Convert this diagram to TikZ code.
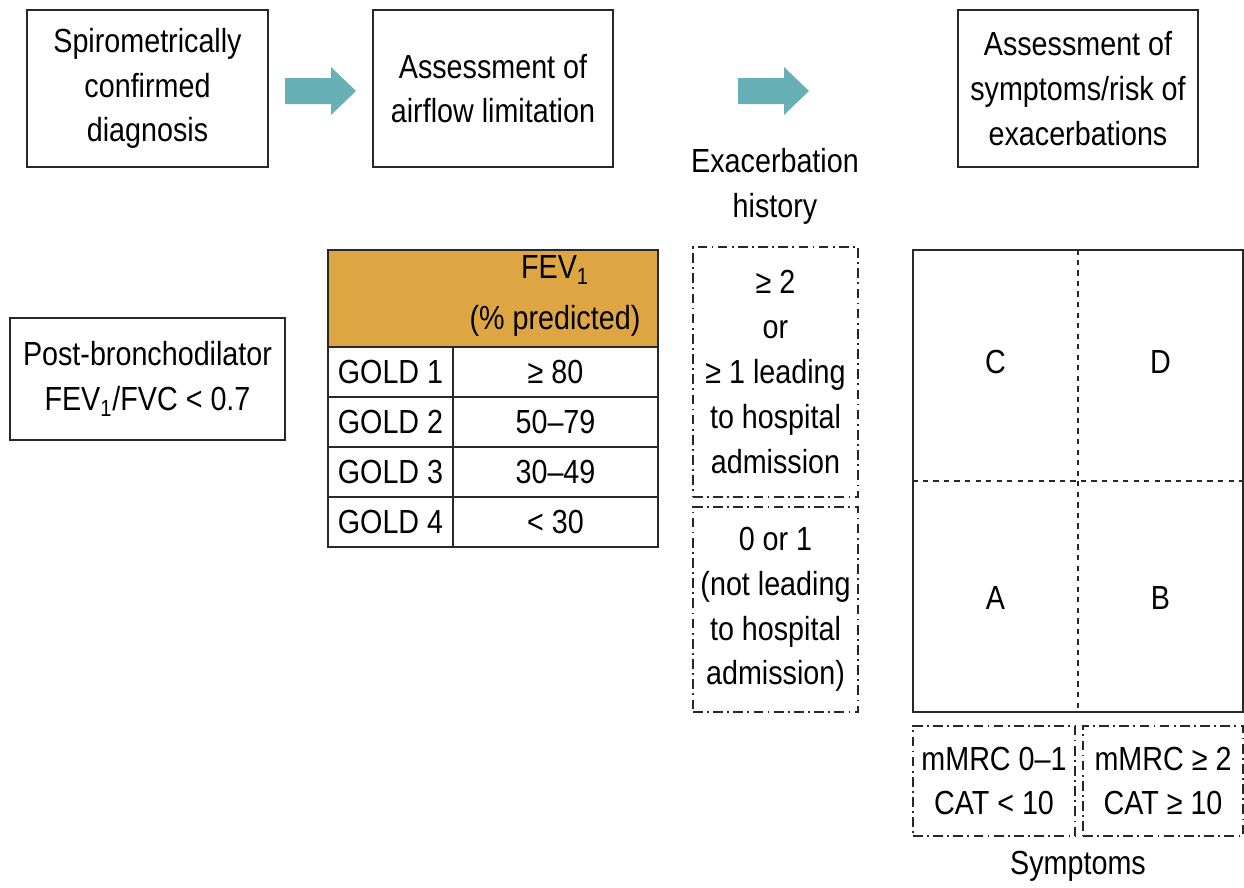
\documentclass[tikz,border=0pt]{standalone}
\usepackage{fontspec}
\setmainfont[FakeStretch=0.86]{Liberation Sans}
\definecolor{goldorange}{RGB}{221,166,66}
\definecolor{arrowteal}{RGB}{103,176,181}
\definecolor{linegray}{RGB}{40,40,40}

\begin{document}
\begin{tikzpicture}[x=0.02cm, y=-0.02cm,
    every node/.style={font=\fontsize{19}{25.5}\selectfont, align=center, text=black},
    solidbox/.style={draw=linegray, line width=0.9pt, inner sep=0pt},
    dashdotbox/.style={draw=linegray, line width=0.9pt, inner sep=0pt,
        dash pattern=on 5.5pt off 2.5pt on 1pt off 2.5pt},
    cell/.style={solidbox, minimum height=1cm}]
    \useasboundingbox (0,0) rectangle (1244,887);

    % Cajas superiores
    \node[solidbox, minimum width=4.82cm, minimum height=3.14cm] (diag) at (147.5,88.5)
        {Spirometrically\\confirmed\\diagnosis};
    \node[solidbox, minimum width=4.8cm, minimum height=3.14cm] (airflow) at (493,88.5)
        {Assessment of\\airflow limitation};
    \node[solidbox, minimum width=4.8cm, minimum height=3.14cm] (symrisk) at (1078,88.5)
        {Assessment of\\symptoms/risk of\\exacerbations};

    % Flechas
    \foreach \dx in {0,453} {
        \fill[arrowteal, xshift=\dx*0.02cm] (285,78) -- (331,78) -- (331,67) -- (356,91)
            -- (331,115) -- (331,104) -- (285,104) -- cycle;
    }

    % Criterio espirometrico
    \node[solidbox, minimum width=5.5cm, minimum height=2.44cm] (postbd) at (147.5,379)
        {Post-bronchodilator\\FEV\textsubscript{1}/FVC < 0.7};

    % Tabla GOLD
    \node[solidbox, fill=goldorange, minimum width=6.6cm, minimum height=1.94cm] (fevhead) at (493,298.5) {};
    \node (fevlabel) at (555,296) {FEV\textsubscript{1}\\[3pt](\% predicted)};
    \foreach \lvl/\val [count=\i] in {1/≥ 80, 2/50–79, 3/30–49, 4/< 30} {
        \node[cell, minimum width=2.5cm] (gold\i) at (390.5,322+50*\i) {GOLD \lvl};
        \node[cell, minimum width=4.1cm] (fev\i) at (555.5,322+50*\i) {\val};
    }

    % Historia de exacerbaciones
    \node (exlabel) at (775,186.5) {Exacerbation\\history};
    \node[dashdotbox, minimum width=3.3cm, minimum height=5cm] (exhigh) at (775.5,372)
        {≥ 2\\or\\≥ 1 leading\\to hospital\\admission};
    \node[dashdotbox, minimum width=3.3cm, minimum height=4.1cm] (exlow) at (775.5,609.5)
        {0 or 1\\(not leading\\to hospital\\admission)};

    % Cuadrantes ABCD
    \node[solidbox, minimum width=6.6cm, minimum height=9.24cm] (grid) at (1078,481) {};
    \draw[linegray, line width=0.8pt, dashed] (grid.north) -- (grid.south);
    \draw[linegray, line width=0.8pt, dashed] (grid.west) -- (grid.east);
    \node (qc) at (995.5,362) {C};
    \node (qd) at (1160.5,362) {D};
    \node (qa) at (995.5,598) {A};
    \node (qb) at (1160.5,598) {B};

    % Sintomas
    \node[dashdotbox, minimum width=3.24cm, minimum height=2.2cm] (symlow) at (994,781)
        {mMRC 0–1\\CAT < 10};
    \node[dashdotbox, minimum width=3.2cm, minimum height=2.2cm] (symhigh) at (1163,781)
        {mMRC ≥ 2\\CAT ≥ 10};
    \node (symlabel) at (1078,866) {Symptoms};
\end{tikzpicture}
\end{document}
